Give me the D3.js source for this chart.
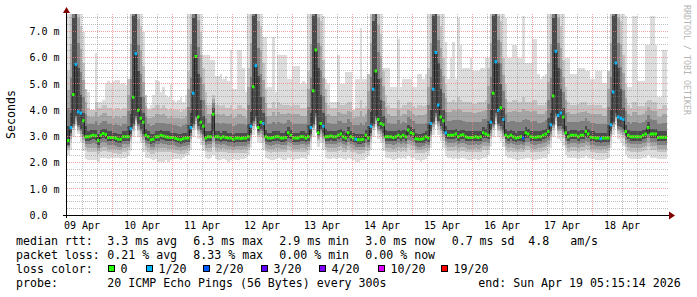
<!DOCTYPE html>
<html>
<head>
<meta charset="utf-8">
<script src="https://cdn.jsdelivr.net/npm/d3@7"></script>
<style>
  body { margin: 0; background: #fff; }
  svg text { font-family: "DejaVu Sans Mono", monospace; white-space: pre; }
</style>
</head>
<body>
<svg id="chart" width="697" height="297"></svg>
<script>
// hourly samples, 09 Apr 06:00 UTC .. 19 Apr 05:00 UTC (one row = one day)
const startTime = Date.UTC(2026, 3, 9, 6);
const endTime = Date.UTC(2026, 3, 19, 6);

// median rtt in ms
const median = [
  2.85,3.35,4.6,5.75,3.95,3.9,3.6,3.0,3.0,3.02,3.05,3.03,2.85,3.05,3.12,3.08,2.97,2.97,2.97,2.95,2.9,2.9,3.0,3.0,
  3.0,3.3,4.5,6.15,4.0,3.7,3.55,3.05,3.0,2.88,2.9,3.0,3.0,3.05,3.02,3.0,2.98,2.97,2.97,2.93,2.9,2.88,2.92,2.95,
  2.95,3.35,4.65,6.05,3.75,3.55,3.4,2.95,3.0,3.0,3.85,3.0,3.0,2.95,3.0,2.97,2.95,2.95,2.9,2.95,2.95,2.93,2.95,2.95,
  3.0,3.4,4.9,5.7,3.35,3.55,3.5,3.0,2.95,2.95,2.97,3.0,3.0,2.95,2.95,2.97,3.15,3.05,2.95,2.95,2.95,3.0,3.0,2.95,
  3.0,3.35,4.75,6.3,3.15,3.5,3.4,3.0,3.0,3.02,3.0,3.0,3.05,3.1,3.0,2.95,3.15,3.0,2.95,2.9,2.88,2.88,2.9,3.05,
  2.95,3.4,4.8,5.5,3.65,3.5,3.45,3.0,3.0,3.0,2.97,3.0,3.05,3.0,3.05,3.0,3.25,3.15,3.1,2.92,2.9,2.9,2.92,3.0,
  2.95,3.5,4.8,6.2,4.2,3.75,3.6,3.15,3.05,3.05,3.05,3.1,3.0,3.05,3.07,3.0,2.97,2.97,2.98,3.0,2.97,3.0,3.15,3.1,
  3.05,3.55,4.65,5.85,4.0,4.1,3.65,3.05,3.0,3.05,3.0,2.95,2.97,3.0,2.95,3.15,3.1,3.0,2.98,2.98,3.0,3.0,3.05,3.1,
  3.2,3.45,4.55,6.25,3.8,3.9,3.75,3.15,3.0,3.05,3.05,3.05,3.0,3.05,3.05,3.2,3.1,2.98,2.97,2.95,2.95,2.92,2.95,2.95,
  2.95,3.45,4.7,5.8,3.75,3.7,3.65,3.2,3.05,3.0,3.0,3.0,3.0,3.0,3.05,3.1,3.35,3.1,3.1,3.1,2.97,2.98,2.98,2.98
];

// lost pings out of 20
const loss = [
  0,1,0,1,1,1,0,0,0,0,0,0,0,0,0,0,0,0,0,0,0,0,0,0,
  0,1,0,1,0,0,0,0,0,0,0,0,0,0,0,0,0,0,0,0,0,0,0,0,
  0,1,1,0,0,0,0,0,0,0,0,0,0,0,0,0,0,0,0,0,0,0,0,0,
  0,1,0,1,0,0,1,0,0,0,0,0,0,0,0,0,0,0,0,0,0,0,0,0,
  0,1,0,0,0,0,1,0,0,0,0,0,0,0,0,0,0,0,0,1,0,0,0,0,
  0,1,1,0,0,0,0,0,0,0,0,0,0,0,0,0,0,0,0,0,0,0,0,0,
  0,1,1,1,1,0,0,1,0,0,0,0,0,0,0,0,0,0,0,0,0,0,0,0,
  0,1,0,1,1,0,1,0,0,0,0,0,0,0,2,0,0,0,0,0,0,0,0,0,
  0,1,0,1,1,1,0,0,0,0,0,0,0,0,0,0,0,0,0,0,0,1,0,0,
  0,1,1,1,1,1,1,0,0,0,0,0,0,0,0,0,0,0,0,0,0,0,0,0
];

// smoke: slowest ping (top of light smoke)
const pingMax = [
  7.9,7.9,7.9,7.9,7.9,7.9,7.0,4.7,4.7,4.0,4.0,6.2,4.3,4.3,4.4,5.05,5.1,5.05,5.1,5.15,5.15,5.0,5.05,4.95,
  5.2,7.9,7.9,7.9,7.9,7.9,7.0,4.1,4.1,4.2,4.6,5.15,5.1,4.7,4.9,4.6,4.5,5.0,4.4,4.3,4.4,4.5,4.3,4.6,
  7.9,7.9,7.9,7.9,7.9,7.9,6.1,6.1,6.1,5.9,5.9,5.3,5.3,5.4,5.2,5.3,5.1,6.3,4.8,4.8,6.3,6.3,5.6,4.7,
  7.9,7.9,7.9,7.9,7.9,7.9,6.8,6.8,4.9,4.9,6.8,4.7,6.1,6.1,6.1,6.1,5.2,5.2,5.7,5.7,5.7,5.0,5.1,5.0,
  7.9,7.9,7.9,7.9,7.9,7.9,7.6,5.2,5.0,4.3,4.3,4.3,6.1,5.0,5.0,5.45,5.45,5.45,4.0,5.2,5.2,7.15,5.2,5.2,
  5.2,7.9,7.9,7.9,7.9,7.9,5.6,5.6,5.6,4.9,4.9,4.9,6.7,4.9,5.2,5.2,5.2,5.2,4.9,4.9,5.4,5.4,5.2,5.4,
  7.9,7.9,7.9,7.9,7.9,7.9,7.9,6.6,5.2,6.0,6.6,5.2,7.5,6.5,5.6,5.6,5.6,6.0,5.5,5.5,5.5,5.6,5.6,6.0,
  6.0,7.9,7.9,7.9,7.9,7.9,7.9,7.5,6.0,6.0,6.5,6.5,6.0,6.0,7.6,5.8,5.8,5.8,6.7,6.7,5.4,5.2,5.3,5.4,
  7.9,7.9,7.9,7.9,7.9,7.9,7.9,6.0,6.0,5.4,5.4,5.4,5.6,5.6,5.6,5.5,5.5,5.2,5.2,5.5,5.5,5.5,5.05,5.05,
  5.05,7.9,7.9,7.9,7.9,7.9,7.9,7.6,4.9,4.9,7.6,7.6,5.1,5.1,5.1,6.5,6.5,7.6,7.6,6.5,4.5,4.5,6.3,6.3
];

// smoke: upper edge of the grey body
const smokeHigh = [
  5.5,7.9,8.5,8.5,8.5,7.2,5.8,4.8,4.1,4.0,4.0,4.3,4.1,4.1,4.2,4.2,4.1,4.1,4.0,4.1,4.1,4.0,4.1,4.1,
  5.2,7.9,8.5,8.5,8.5,7.2,5.7,4.6,4.0,4.0,4.1,4.2,4.2,4.1,4.2,4.1,4.0,4.1,4.0,4.0,4.0,3.95,4.0,4.1,
  5.5,7.9,8.5,8.5,8.5,7.0,5.6,4.7,4.2,4.2,4.6,4.2,4.2,4.15,4.2,4.1,4.1,4.2,4.0,4.05,4.2,4.2,4.1,4.0,
  5.6,7.9,8.5,8.5,8.5,7.2,5.8,4.8,4.1,4.1,4.3,4.1,4.3,4.25,4.2,4.2,4.2,4.15,4.2,4.2,4.2,4.1,4.1,4.1,
  5.5,7.9,8.5,8.5,8.5,7.4,5.9,4.8,4.2,4.1,4.1,4.1,4.3,4.2,4.2,4.25,4.3,4.3,4.0,4.1,4.1,4.4,4.1,4.15,
  5.4,7.9,8.5,8.5,8.3,6.9,5.5,4.6,4.2,4.1,4.1,4.1,4.4,4.1,4.2,4.2,4.3,4.3,4.15,4.1,4.2,4.2,4.15,4.2,
  5.6,7.9,8.5,8.5,8.5,7.2,6.0,5.0,4.3,4.3,4.4,4.3,4.5,4.4,4.3,4.3,4.3,4.3,4.25,4.25,4.3,4.3,4.3,4.4,
  5.6,7.9,8.5,8.5,8.5,7.4,6.0,5.0,4.3,4.3,4.4,4.4,4.3,4.3,4.5,4.3,4.3,4.3,4.4,4.4,4.2,4.2,4.2,4.3,
  5.8,7.9,8.5,8.5,8.5,7.2,5.9,4.9,4.3,4.2,4.2,4.2,4.25,4.3,4.3,4.3,4.2,4.2,4.2,4.2,4.2,4.2,4.1,4.1,
  5.5,7.9,8.5,8.5,8.5,7.4,6.1,5.0,4.2,4.1,4.3,4.3,4.15,4.15,4.15,4.3,4.4,4.4,4.3,4.3,4.05,4.05,4.2,4.2
];

// smoke: upper edge of the dark core
const coreHigh = [
  3.4,3.9,7.5,8.2,5.6,4.6,3.9,3.4,3.2,3.25,3.25,3.25,3.1,3.25,3.3,3.3,3.2,3.2,3.15,3.15,3.1,3.1,3.2,3.2,
  3.4,3.85,7.6,8.2,5.5,4.5,3.9,3.3,3.2,3.1,3.1,3.2,3.2,3.25,3.2,3.2,3.2,3.15,3.15,3.15,3.1,3.1,3.15,3.15,
  3.45,3.9,7.5,8.2,5.4,4.4,3.8,3.2,3.2,3.2,4.1,3.2,3.2,3.15,3.2,3.2,3.15,3.15,3.1,3.15,3.15,3.15,3.15,3.15,
  3.5,3.95,7.6,8.2,5.3,4.5,3.9,3.25,3.15,3.15,3.2,3.2,3.2,3.15,3.15,3.2,3.35,3.25,3.15,3.15,3.15,3.2,3.2,3.15,
  3.45,3.9,7.6,8.2,5.6,4.6,3.9,3.3,3.2,3.2,3.2,3.2,3.25,3.3,3.2,3.15,3.35,3.2,3.15,3.1,3.1,3.1,3.1,3.25,
  3.4,3.95,7.4,8.0,5.2,4.4,3.8,3.25,3.2,3.2,3.2,3.2,3.25,3.2,3.25,3.2,3.45,3.35,3.3,3.15,3.1,3.1,3.15,3.2,
  3.5,4.0,7.6,8.2,5.8,4.8,4.0,3.4,3.25,3.25,3.25,3.3,3.2,3.25,3.27,3.2,3.2,3.2,3.2,3.2,3.2,3.2,3.35,3.3,
  3.6,4.0,7.6,8.2,5.8,5.0,4.1,3.3,3.2,3.25,3.2,3.15,3.2,3.2,3.2,3.35,3.3,3.2,3.2,3.2,3.2,3.2,3.25,3.3,
  3.7,3.9,7.5,8.2,5.6,4.8,4.1,3.4,3.2,3.25,3.25,3.25,3.2,3.25,3.25,3.4,3.3,3.2,3.2,3.15,3.15,3.15,3.15,3.15,
  3.45,4.0,7.6,8.2,5.6,4.8,4.1,3.45,3.25,3.2,3.2,3.2,3.2,3.2,3.25,3.3,3.55,3.3,3.3,3.3,3.2,3.2,3.2,3.2
];

// smoke: lower edge of the dark core
const coreLow = [
  2.7,3.15,3.5,3.8,3.45,3.3,3.1,2.85,2.85,2.88,2.9,2.88,2.7,2.9,2.95,2.92,2.82,2.82,2.82,2.8,2.75,2.75,2.85,2.85,
  2.85,3.1,3.5,3.8,3.5,3.3,3.1,2.88,2.85,2.73,2.75,2.85,2.85,2.9,2.87,2.85,2.83,2.82,2.82,2.78,2.75,2.73,2.77,2.8,
  2.8,3.15,3.5,3.8,3.4,3.25,3.1,2.8,2.85,2.85,3.2,2.85,2.85,2.8,2.85,2.82,2.8,2.8,2.75,2.8,2.8,2.78,2.8,2.8,
  2.85,3.15,3.6,3.8,3.2,3.3,3.2,2.85,2.8,2.8,2.82,2.85,2.85,2.8,2.8,2.82,2.95,2.9,2.8,2.8,2.8,2.85,2.85,2.8,
  2.85,3.1,3.5,3.9,3.05,3.3,3.15,2.85,2.85,2.87,2.85,2.85,2.9,2.95,2.85,2.8,2.95,2.85,2.8,2.75,2.73,2.73,2.75,2.9,
  2.8,3.15,3.5,3.8,3.4,3.3,3.15,2.85,2.85,2.85,2.82,2.85,2.9,2.85,2.9,2.85,3.05,3.0,2.95,2.77,2.75,2.75,2.77,2.85,
  2.8,3.2,3.55,3.9,3.6,3.4,3.2,2.95,2.9,2.9,2.9,2.95,2.85,2.9,2.92,2.85,2.82,2.82,2.83,2.85,2.82,2.85,2.95,2.95,
  2.9,3.25,3.5,3.9,3.5,3.4,3.25,2.9,2.85,2.9,2.85,2.8,2.82,2.85,2.8,2.95,2.95,2.85,2.83,2.83,2.85,2.85,2.9,2.95,
  3.0,3.2,3.5,3.9,3.4,3.4,3.3,2.95,2.85,2.9,2.9,2.9,2.85,2.9,2.9,3.0,2.95,2.83,2.82,2.8,2.8,2.77,2.8,2.8,
  2.8,3.2,3.55,3.9,3.4,3.35,3.3,3.0,2.9,2.85,2.85,2.85,2.85,2.85,2.9,2.95,3.1,2.95,2.95,2.95,2.82,2.83,2.83,2.83
];

// smoke: lower edge of the grey body
const smokeLow = [
  2.5,2.8,3.25,3.5,3.2,3.0,2.75,2.5,2.4,2.42,2.42,2.4,2.35,2.42,2.45,2.45,2.4,2.4,2.38,2.38,2.35,2.35,2.4,2.4,
  2.5,2.8,3.2,3.55,3.2,3.0,2.75,2.5,2.42,2.35,2.35,2.4,2.4,2.42,2.42,2.4,2.4,2.4,2.38,2.36,2.35,2.33,2.35,2.38,
  2.45,2.8,3.25,3.5,3.1,2.95,2.7,2.45,2.4,2.4,2.6,2.42,2.42,2.4,2.42,2.4,2.38,2.38,2.36,2.38,2.38,2.36,2.38,2.38,
  2.5,2.85,3.3,3.5,3.0,3.0,2.8,2.45,2.4,2.38,2.4,2.42,2.42,2.4,2.4,2.4,2.5,2.45,2.4,2.4,2.4,2.42,2.42,2.4,
  2.5,2.8,3.25,3.6,2.85,3.0,2.8,2.48,2.42,2.42,2.42,2.42,2.45,2.48,2.42,2.4,2.5,2.42,2.4,2.36,2.35,2.35,2.36,2.45,
  2.45,2.8,3.25,3.5,3.1,3.0,2.8,2.45,2.42,2.42,2.4,2.42,2.45,2.42,2.45,2.42,2.55,2.5,2.48,2.38,2.36,2.36,2.38,2.42,
  2.45,2.85,3.3,3.6,3.3,3.1,2.85,2.55,2.45,2.45,2.45,2.48,2.42,2.45,2.46,2.42,2.4,2.4,2.4,2.42,2.4,2.42,2.5,2.48,
  2.5,2.9,3.25,3.6,3.2,3.1,2.9,2.5,2.42,2.45,2.42,2.4,2.4,2.42,2.4,2.5,2.48,2.42,2.4,2.4,2.42,2.42,2.45,2.48,
  2.6,2.85,3.25,3.6,3.1,3.1,2.95,2.55,2.42,2.45,2.45,2.45,2.42,2.45,2.45,2.52,2.48,2.4,2.4,2.38,2.38,2.36,2.38,2.38,
  2.45,2.85,3.3,3.6,3.1,3.05,2.95,2.6,2.45,2.42,2.42,2.42,2.42,2.42,2.45,2.48,2.6,2.48,2.48,2.48,2.4,2.4,2.4,2.4
];

// smoke: fastest ping (bottom of light smoke)
const pingMin = [
  2.3,2.5,3.0,3.4,3.1,2.8,2.45,2.15,2.1,2.1,2.12,2.1,2.05,2.2,2.2,2.2,2.15,2.18,2.2,2.2,2.2,2.15,2.2,2.2,
  2.25,2.45,3.0,3.4,3.0,2.75,2.4,2.2,2.2,2.15,2.1,2.15,2.05,2.05,2.05,2.1,2.05,2.1,2.15,2.15,2.15,2.1,2.2,2.25,
  2.3,2.5,3.0,3.3,2.9,2.7,2.45,2.2,2.15,2.2,2.3,2.15,2.1,2.1,2.15,2.1,2.05,2.1,2.15,2.1,2.1,2.15,2.15,2.2,
  2.3,2.55,3.05,3.4,2.8,2.75,2.5,2.2,2.15,2.1,2.1,2.15,2.2,2.15,2.1,2.1,2.2,2.15,2.1,2.15,2.15,2.2,2.2,2.15,
  2.3,2.5,3.0,3.45,2.6,2.75,2.5,2.2,2.15,2.15,2.2,2.15,2.2,2.2,2.15,2.1,2.2,2.15,2.1,2.05,2.05,2.1,2.1,2.2,
  2.25,2.5,3.0,3.35,2.9,2.75,2.45,2.2,2.2,2.15,2.1,2.15,2.2,2.15,2.2,2.15,2.25,2.2,2.2,2.1,2.1,2.05,2.1,2.15,
  2.25,2.55,3.05,3.45,3.05,2.85,2.55,2.25,2.2,2.2,2.15,2.2,2.15,2.2,2.2,2.15,2.1,2.1,2.15,2.15,2.1,2.15,2.2,2.2,
  2.3,2.6,3.0,3.45,3.0,2.85,2.6,2.25,2.2,2.2,2.15,2.1,2.1,2.15,2.15,2.2,2.2,2.15,2.1,2.1,2.15,2.15,2.2,2.2,
  2.35,2.55,3.0,3.45,2.9,2.85,2.65,2.3,2.2,2.2,2.2,2.2,2.15,2.2,2.2,2.25,2.2,2.15,2.15,2.1,2.1,2.1,2.1,2.15,
  2.2,2.55,3.05,3.45,2.9,2.8,2.65,2.3,2.2,2.15,2.15,2.15,2.15,2.15,2.2,2.2,2.3,2.2,2.2,2.2,2.15,2.15,2.15,2.15
];

const lossLevels = [0, 1, 2, 3, 4, 10, 19];
const lossLabels = ["0", "1/20", "2/20", "3/20", "4/20", "10/20", "19/20"];
const lossColors = ["#26ff00", "#00b8ff", "#0059ff", "#5e00ff", "#7e00ff", "#dd00ff", "#ff0000"];

const yMajorTicks = [0, 1, 2, 3, 4, 5, 6, 7];

const legendRtt = ["3.3 ms avg", "6.3 ms max", "2.9 ms min", "3.0 ms now", "0.7 ms sd", "4.8   am/s"];
const legendLoss = ["0.21 % avg", "8.33 % max", "0.00 % min", "0.00 % now"];
const probeText = "20 ICMP Echo Pings (56 Bytes) every 300s";
const endText = "end: Sun Apr 19 05:15:14 2026";

// ---------------------------------------------------------------
const svg = d3.select('#chart');
const plotL = 67, plotR = 667, plotT = 14, plotB = 215.5;

const x = d3.scaleUtc().domain([new Date(startTime), new Date(endTime)]).range([plotL, plotR]);
const y = d3.scaleLinear().domain([0, 7.666]).range([plotB, plotT]);

// one point per sample, plus the end of the last step
const pts = median.map((m, i) => ({ t: new Date(startTime + i * 3600e3), i }));
pts.push({ t: new Date(endTime), i: median.length - 1 });

svg.append('clipPath').attr('id', 'plot')
  .append('rect').attr('x', plotL).attr('y', plotT).attr('width', plotR - plotL).attr('height', plotB - plotT);

const g = svg.append('g').attr('clip-path', 'url(#plot)');

function band(lowF, highF, color) {
  const area = d3.area()
    .x(d => x(d.t))
    .y0(d => y(lowF(d.i)))
    .y1(d => y(highF(d.i)))
    .curve(d3.curveStepAfter);
  g.append('path').attr('d', area(pts)).attr('fill', color).attr('shape-rendering', 'crispEdges');
}

// smoke, from outer to inner
band(i => pingMin[i], i => pingMax[i], '#dddddd');
band(i => smokeLow[i], i => smokeHigh[i], '#c2c2c2');
[[0.66, '#a4a4a4'], [0.33, '#808080']].forEach(([f, c]) => {
  band(i => coreLow[i] + f * (smokeLow[i] - coreLow[i]),
       i => coreHigh[i] + f * (smokeHigh[i] - coreHigh[i]), c);
});
band(i => coreLow[i], i => coreHigh[i], '#4c4c4c');

// grid on top of the smoke
const gridG = svg.append('g');
const minorCol = 'rgba(128,128,128,0.5)', majorCol = 'rgba(245,128,128,0.75)';
const days = d3.utcDay.range(new Date(Date.UTC(2026, 3, 9)), new Date(Date.UTC(2026, 3, 19)));

d3.utcHour.every(6).range(new Date(startTime), new Date(endTime)).forEach(t => {
  if (t.getUTCHours() === 0 || +t === startTime) return;
  const px = Math.round(x(t)) + 0.5;
  gridG.append('line').attr('x1', px).attr('x2', px).attr('y1', plotT).attr('y2', plotB)
    .attr('stroke', minorCol).attr('stroke-dasharray', '1,1');
});
d3.range(0.25, 7.666, 0.25).filter(v => v % 1 !== 0).forEach(v => {
  const py = Math.round(y(v)) - 0.5;
  gridG.append('line').attr('x1', plotL).attr('x2', plotR + 1).attr('y1', py).attr('y2', py)
    .attr('stroke', minorCol).attr('stroke-dasharray', '1,1');
});
days.filter(d => +d > startTime).forEach(t => {
  const px = Math.round(x(t)) + 0.5;
  gridG.append('line').attr('x1', px).attr('x2', px).attr('y1', plotT).attr('y2', plotB)
    .attr('stroke', majorCol).attr('stroke-dasharray', '1,1');
});
yMajorTicks.filter(v => v > 0).forEach(v => {
  const py = Math.round(y(v)) - 0.5;
  gridG.append('line').attr('x1', plotL).attr('x2', plotR + 1).attr('y1', py).attr('y2', py)
    .attr('stroke', majorCol).attr('stroke-dasharray', '1,1');
});

// median: thin black step line, then a loss-coloured bar for each sample
const stepLine = d3.line().x(d => x(d.t)).y(d => y(median[d.i])).curve(d3.curveStepAfter);
g.append('path').attr('d', stepLine(pts)).attr('fill', 'none').attr('stroke', '#202020').attr('stroke-width', 1);

function lossIndex(l) {
  let k = 0;
  lossLevels.forEach((lv, j) => { if (l >= lv) k = j; });
  return k;
}
g.selectAll('line.med')
  .data(median.map((m, i) => ({ m, i, k: lossIndex(loss[i]) })))
  .join('line')
  .attr('class', 'med')
  .attr('x1', d => x(pts[d.i].t))
  .attr('x2', d => x(pts[d.i + 1].t))
  .attr('y1', d => y(d.m))
  .attr('y2', d => y(d.m))
  .attr('stroke', d => lossColors[d.k])
  .attr('stroke-width', 3);

// axes
svg.append('line').attr('x1', 63).attr('x2', 670).attr('y1', plotB).attr('y2', plotB).attr('stroke', '#000');
svg.append('line').attr('x1', plotL - 0.5).attr('x2', plotL - 0.5).attr('y1', 218).attr('y2', 11).attr('stroke', '#000');
svg.append('path').attr('d', 'M669,211.5L675,215.5L669,219.5Z').attr('fill', '#800000');
svg.append('path').attr('d', 'M63,13L66.5,7L70,13Z').attr('fill', '#800000');

// tick labels
yMajorTicks.forEach(v => {
  svg.append('text').attr('x', 29.5).attr('y', y(v) + 3.5)
    .attr('font-size', '10px').attr('fill', '#000')
    .text(v === 0 ? '0.0' : d3.format('.1f')(v) + ' m');
});
days.forEach(d => {
  svg.append('text').attr('x', x(d3.utcHour.offset(d, 12))).attr('y', 228.5)
    .attr('text-anchor', 'middle').attr('font-size', '10px').attr('fill', '#000')
    .text(d3.utcFormat('%d %b')(d));
});

svg.append('text').attr('transform', 'translate(15,114.5) rotate(-90)')
  .attr('text-anchor', 'middle').attr('font-size', '11.6px').attr('fill', '#000').text('Seconds');

svg.append('text').attr('transform', 'translate(684,5) rotate(90)')
  .attr('font-size', '8.3px').attr('fill', '#b4b4b4').text('RRDTOOL / TOBI OETIKER');

// legend
const legend = svg.append('g').attr('font-size', '11.6px').attr('fill', '#000');
const colX = [107.3, 193.3, 279.3, 365.3, 451.7, 528.3];
legend.append('text').attr('x', 16).attr('y', 245).text('median rtt:');
legendRtt.forEach((s, j) => legend.append('text').attr('x', colX[j]).attr('y', 245).text(s));
legend.append('text').attr('x', 16).attr('y', 259).text('packet loss:');
legendLoss.forEach((s, j) => legend.append('text').attr('x', colX[j]).attr('y', 259).text(s));
legend.append('text').attr('x', 16).attr('y', 273).text('loss color:');
const boxX = [108.5, 146.5, 203.5, 261.5, 319.5, 378.5, 441.5];
lossLabels.forEach((s, j) => {
  legend.append('rect').attr('x', boxX[j]).attr('y', 265.5).attr('width', 6).attr('height', 6)
    .attr('fill', lossColors[j]).attr('stroke', '#000');
  legend.append('text').attr('x', boxX[j] + 12).attr('y', 273).text(s);
});
legend.append('text').attr('x', 16).attr('y', 287).text('probe:');
legend.append('text').attr('x', 107.3).attr('y', 287).text(probeText);
legend.append('text').attr('x', 478.3).attr('y', 287).text(endText);
</script>
</body>
</html>
